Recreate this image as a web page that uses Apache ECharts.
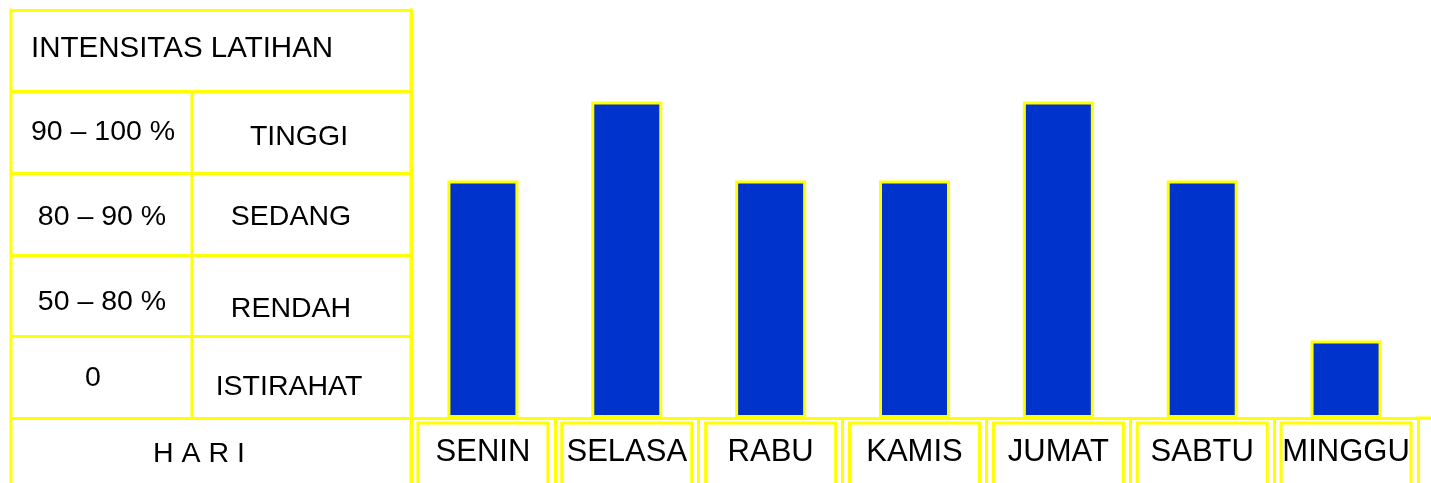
<!DOCTYPE html>
<html>
<head>
<meta charset="utf-8">
<script src="https://cdn.jsdelivr.net/npm/echarts@6/dist/echarts.min.js"></script>
<style>
html,body{margin:0;padding:0;background:#fff;}
#c{width:1431px;height:483px;}
</style>
</head>
<body>
<div id="c"></div>
<script>
// ---- data ----
const days = ['SENIN', 'SELASA', 'RABU', 'KAMIS', 'JUMAT', 'SABTU', 'MINGGU'];
const intensity = [2.91, 3.88, 2.91, 2.91, 3.88, 2.91, 0.95];
const tableTitle = 'INTENSITAS LATIHAN';
const ranges = ['90 – 100 %', '80 – 90 %', '50 – 80 %', '0'];
const levels = ['TINGGI', 'SEDANG', 'RENDAH', 'ISTIRAHAT'];
const dayHeader = 'H A R I';

const YEL = '#ffff00';
const BLUE = '#0033cc';
const FONT = '"Liberation Sans", Arial, sans-serif';

const chart = echarts.init(document.getElementById('c'), null, {renderer: 'canvas'});

function line(x1, y1, x2, y2) {
  return {type: 'line', z: 10, shape: {x1, y1, x2, y2}, style: {stroke: YEL, lineWidth: 3}};
}
function txt(s, x, y, size, align) {
  return {type: 'text', z: 11, x, y, style: {text: s, fill: '#000', font: size + 'px ' + FONT,
    align: align || 'center', verticalAlign: 'middle'}};
}

const col1X = [103, 102, 102, 93];
const col1Y = [132, 217, 302, 378];
const col2X = [299, 291, 291, 289];
const col2Y = [137, 217, 309, 387];

const graphics = [
  line(11, 8.5, 11, 483),
  line(411, 8.5, 411, 483),
  line(192, 92, 192, 418),
  line(1416, 418, 1431, 418),
  txt(tableTitle, 31, 49, 29.5, 'left'),
  txt(dayHeader, 199, 454, 28.5)
];
ranges.forEach((r, i) => graphics.push(txt(r, col1X[i], col1Y[i], 28.5)));
levels.forEach((l, i) => graphics.push(txt(l, col2X[i], col2Y[i], 28.5)));

chart.setOption({
  backgroundColor: '#ffffff',
  animation: false,
  grid: {left: 411, right: 13, top: 10, bottom: 65, containLabel: false, outerBoundsMode: 'none'},
  xAxis: {
    type: 'category',
    data: days,
    axisLine: {show: true, lineStyle: {color: YEL, width: 3}},
    axisTick: {show: true, length: 65, lineStyle: {color: YEL, width: 3}},
    axisLabel: {
      interval: 0,
      margin: 5,
      color: '#000',
      fontFamily: FONT,
      fontSize: 31,
      width: 130,
      height: 70,
      lineHeight: 58,
      align: 'center',
      verticalAlign: 'top',
      borderColor: YEL,
      borderWidth: 3,
      padding: 0
    },
    splitLine: {show: false}
  },
  yAxis: {
    type: 'value',
    min: 0,
    max: 5,
    interval: 1,
    axisLine: {show: true, lineStyle: {color: YEL, width: 3}},
    axisTick: {show: true, length: 400, lineStyle: {color: YEL, width: 3}},
    axisLabel: {show: false},
    splitLine: {show: false}
  },
  series: [{
    type: 'bar',
    data: intensity,
    barWidth: 71,
    itemStyle: {color: BLUE, borderColor: YEL, borderWidth: 3}
  }],
  graphic: graphics
});
</script>
</body>
</html>
